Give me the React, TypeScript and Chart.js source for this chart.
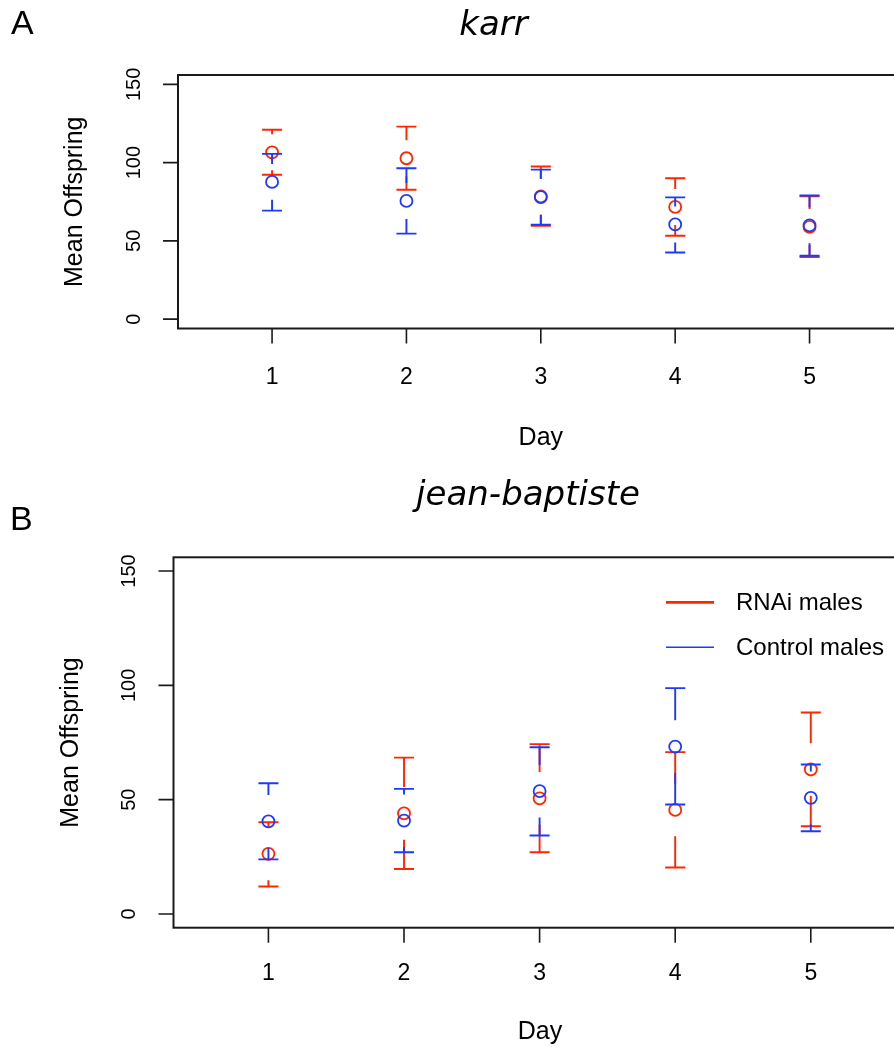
import React, { useEffect, useRef } from 'react';
import Chart from 'chart.js/auto';

// ---- data ----
const days = [1, 2, 3, 4, 5];
const dayTickLabels = ['1', '2', '3', '4', '5'];
const yTickValues = [0, 50, 100, 150];
const yTickLabels = ['0', '50', '100', '150'];
const seriesNames = ['RNAi males', 'Control males'];

const karrRnaiMean = [106.6, 102.8, 78.4, 71.7, 58.9];
const karrRnaiUpper = [121, 123, 97.5, 90, 78.5];
const karrRnaiLower = [92.3, 82.7, 59.7, 53.3, 39.7];
const karrCtrlMean = [87.7, 75.5, 78, 60.5, 59.9];
const karrCtrlUpper = [105.6, 96.4, 95.5, 77.8, 79];
const karrCtrlLower = [69.3, 54.6, 60.3, 42.6, 40.5];

const jbRnaiMean = [26.3, 44, 50.6, 45.5, 63.2];
const jbRnaiUpper = [40.1, 68.4, 74.3, 70.8, 88.1];
const jbRnaiLower = [12, 19.7, 27, 20.3, 38.4];
const jbCtrlMean = [40.5, 40.8, 53.7, 73.2, 50.8];
const jbCtrlUpper = [57.2, 54.7, 72.9, 98.8, 65.4];
const jbCtrlLower = [23.9, 27, 34.3, 47.9, 36.2];

const GAP = 11.5; // gap around point in data units

const RED = 'rgb(255,38,0)';
const BLUE = 'rgb(28,58,255)';
const SANS = '"Liberation Sans", Arial, Helvetica, sans-serif';

type Series = { mean: number[]; upper: number[]; lower: number[]; color: string };

type Panel = {
  height: number;
  pad: { left: number; top: number; right: number; bottom: number };
  letter: string;
  letterX: number;
  letterBase: number;
  title: string;
  titleX: number;
  titleBase: number;
  yTickBaseX: number;
  yLabelBaseX: number;
  xTickBase: number;
  xLabelBase: number;
  xLabelX: number;
  legend: boolean;
  legendY1: number;
  legendY2: number;
  series: Series[];
};

const CANVAS_W = 920;

const panelA: Panel = {
  height: 470,
  pad: { left: 178, top: 75, right: CANVAS_W - 903.6, bottom: 470 - 328.5 },
  letter: 'A',
  letterX: 11,
  letterBase: 34,
  title: 'karr',
  titleX: 493.5,
  titleBase: 35,
  yTickBaseX: 139.5,
  yLabelBaseX: 82,
  xTickBase: 383.5,
  xLabelBase: 445,
  xLabelX: 540.8,
  legend: false,
  legendY1: 0,
  legendY2: 0,
  series: [
    { mean: karrRnaiMean, upper: karrRnaiUpper, lower: karrRnaiLower, color: RED },
    { mean: karrCtrlMean, upper: karrCtrlUpper, lower: karrCtrlLower, color: BLUE },
  ],
};

const panelB: Panel = {
  height: 578,
  pad: { left: 173.5, top: 87.3, right: CANVAS_W - 905.7, bottom: 578 - 457.7 },
  letter: 'B',
  letterX: 10,
  letterBase: 60,
  title: 'jean-baptiste',
  titleX: 528,
  titleBase: 35,
  yTickBaseX: 135,
  yLabelBaseX: 78,
  xTickBase: 510,
  xLabelBase: 569,
  xLabelX: 540,
  legend: true,
  legendY1: 132.3,
  legendY2: 177.3,
  series: [
    { mean: jbRnaiMean, upper: jbRnaiUpper, lower: jbRnaiLower, color: RED },
    { mean: jbCtrlMean, upper: jbCtrlUpper, lower: jbCtrlLower, color: BLUE },
  ],
};

function makeChart(canvas: HTMLCanvasElement, p: Panel) {
  const errPlugin = {
    id: 'errbars',
    beforeDatasetDraw(chart: any, args: any) {
      const s = p.series[args.index];
      if (!s) return;
      const ctx = chart.ctx;
      const xs = chart.scales.x;
      const ys = chart.scales.y;
      ctx.save();
      ctx.strokeStyle = s.color;
      ctx.lineWidth = 1.9;
      ctx.lineCap = 'butt';
      days.forEach((d, i) => {
        const px = xs.getPixelForValue(d);
        const m = s.mean[i];
        const hi = s.upper[i];
        const lo = s.lower[i];
        ctx.beginPath();
        if (hi > m + GAP) {
          ctx.moveTo(px, ys.getPixelForValue(hi));
          ctx.lineTo(px, ys.getPixelForValue(m + GAP));
        }
        if (lo < m - GAP) {
          ctx.moveTo(px, ys.getPixelForValue(lo));
          ctx.lineTo(px, ys.getPixelForValue(m - GAP));
        }
        const yh = ys.getPixelForValue(hi);
        const yl = ys.getPixelForValue(lo);
        ctx.moveTo(px - 10, yh);
        ctx.lineTo(px + 10, yh);
        ctx.moveTo(px - 10, yl);
        ctx.lineTo(px + 10, yl);
        ctx.stroke();
      });
      ctx.restore();
    },
  };

  const framePlugin = {
    id: 'frame',
    afterDraw(chart: any) {
      const ctx = chart.ctx;
      const { left, top, right, bottom } = chart.chartArea;
      const xs = chart.scales.x;
      const ys = chart.scales.y;
      ctx.save();
      ctx.strokeStyle = '#1a1a1a';
      ctx.lineWidth = 2;
      ctx.strokeRect(left, top, right - left, bottom - top);
      ctx.lineWidth = 1.6;
      ctx.beginPath();
      yTickValues.forEach((v) => {
        const y = ys.getPixelForValue(v);
        ctx.moveTo(left - 15, y);
        ctx.lineTo(left, y);
      });
      days.forEach((d) => {
        const x = xs.getPixelForValue(d);
        ctx.moveTo(x, bottom);
        ctx.lineTo(x, bottom + 15);
      });
      ctx.stroke();

      ctx.fillStyle = '#000';
      // y tick labels (rotated)
      ctx.font = `20px ${SANS}`;
      ctx.textAlign = 'center';
      ctx.textBaseline = 'alphabetic';
      yTickValues.forEach((v, i) => {
        const y = ys.getPixelForValue(v);
        ctx.save();
        ctx.translate(p.yTickBaseX, y);
        ctx.rotate(-Math.PI / 2);
        ctx.fillText(yTickLabels[i], 0, 0);
        ctx.restore();
      });
      // y axis label
      ctx.font = `25px ${SANS}`;
      ctx.save();
      ctx.translate(p.yLabelBaseX, (top + bottom) / 2);
      ctx.rotate(-Math.PI / 2);
      ctx.fillText('Mean Offspring', 0, 0);
      ctx.restore();
      // x tick labels
      ctx.font = `23px ${SANS}`;
      days.forEach((d, i) => {
        ctx.fillText(dayTickLabels[i], xs.getPixelForValue(d), p.xTickBase);
      });
      // x label
      ctx.font = `25px ${SANS}`;
      ctx.fillText('Day', p.xLabelX, p.xLabelBase);
      // title
      ctx.font = `italic 34px "DejaVu Sans", sans-serif`;
      ctx.fillText(p.title, p.titleX, p.titleBase);
      // panel letter
      ctx.textAlign = 'left';
      ctx.font = `34px ${SANS}`;
      ctx.fillText(p.letter, p.letterX, p.letterBase);

      if (p.legend) {
        ctx.lineCap = 'butt';
        ctx.strokeStyle = RED;
        ctx.lineWidth = 2.7;
        ctx.beginPath();
        ctx.moveTo(666, p.legendY1);
        ctx.lineTo(714, p.legendY1);
        ctx.stroke();
        ctx.strokeStyle = BLUE;
        ctx.lineWidth = 1.5;
        ctx.beginPath();
        ctx.moveTo(666, p.legendY2);
        ctx.lineTo(714, p.legendY2);
        ctx.stroke();
        ctx.font = `24px ${SANS}`;
        ctx.textBaseline = 'middle';
        ctx.fillStyle = '#000';
        ctx.fillText(seriesNames[0], 736, p.legendY1 + 1);
        ctx.fillText(seriesNames[1], 736, p.legendY2 + 1);
      }
      ctx.restore();
    },
  };

  return new Chart(canvas, {
    type: 'scatter',
    data: {
      datasets: p.series.map((s, k) => ({
        label: seriesNames[k],
        data: days.map((d, i) => ({ x: d, y: s.mean[i] })),
        borderColor: s.color,
        backgroundColor: 'rgba(0,0,0,0)',
        pointRadius: 6,
        pointHoverRadius: 6,
        borderWidth: 1.8,
        pointStyle: 'circle',
        order: k === 0 ? 2 : 1,
        clip: false as any,
      })),
    },
    options: {
      responsive: false,
      animation: false,
      events: [],
      layout: { padding: p.pad },
      plugins: { legend: { display: false }, tooltip: { enabled: false }, title: { display: false } },
      scales: {
        x: { type: 'linear', display: false, min: 0.3, max: 5.7 },
        y: { type: 'linear', display: false, min: -6, max: 156 },
      },
    },
    plugins: [errPlugin, framePlugin],
  } as any);
}

function PanelCanvas({ panel }: { panel: Panel }) {
  const ref = useRef<HTMLCanvasElement | null>(null);
  useEffect(() => {
    if (!ref.current) return;
    const c = makeChart(ref.current, panel);
    return () => c.destroy();
  }, [panel]);
  return <canvas ref={ref} width={CANVAS_W} height={panel.height} style={{ display: 'block' }} />;
}

export default function App() {
  return (
    <div
      style={{
        position: 'absolute',
        left: 0,
        top: 0,
        width: 894,
        height: 1048,
        overflow: 'hidden',
        background: '#fff',
      }}
    >
      <PanelCanvas panel={panelA} />
      <PanelCanvas panel={panelB} />
    </div>
  );
}
